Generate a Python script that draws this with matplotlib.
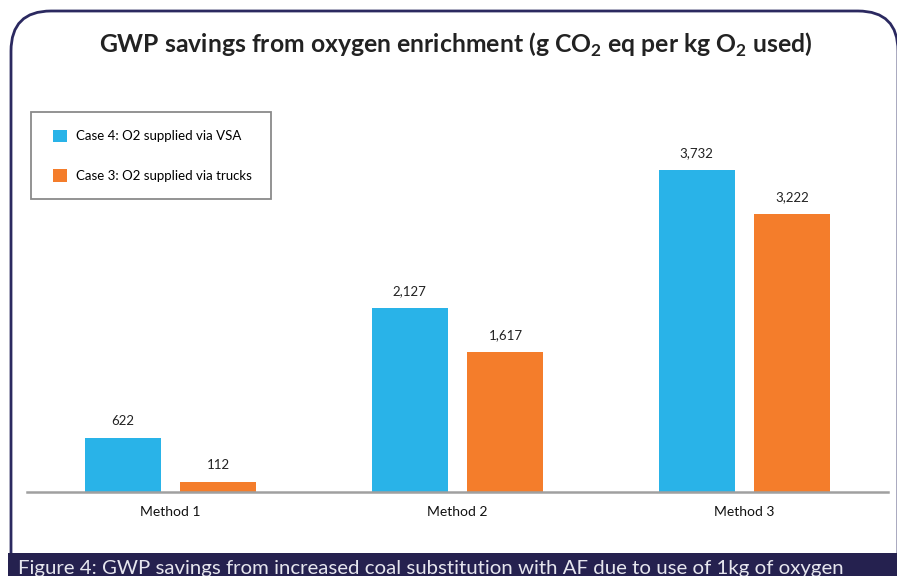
import numpy as np
import matplotlib.pyplot as plt
from matplotlib.patches import FancyBboxPatch, Rectangle
from matplotlib.transforms import IdentityTransform

methods = ['Method 1', 'Method 2', 'Method 3']
vsa = [622, 2127, 3732]
trucks = [112, 1617, 3222]
series_names = ['Case 4: O2 supplied via VSA', 'Case 3: O2 supplied via trucks']

blue = '#29b3e8'
orange = '#f47d2b'
navy = '#25214f'

plt.rcParams['font.family'] = ['Lato', 'DejaVu Sans']

W, H = 897, 576
fig = plt.figure(figsize=(W / 100, H / 100), dpi=100)

# rounded frame, in pixels
frame = FancyBboxPatch((11, -40), 887, H - 11 + 40, boxstyle='round,pad=0,rounding_size=40',
                       transform=IdentityTransform(), facecolor='white', edgecolor='#2b2960',
                       linewidth=2.0, zorder=-2)
fig.patches.append(frame)

# legend box
fig.patches.append(Rectangle((31, H - 199), 240, 87, transform=IdentityTransform(),
                             facecolor='white', edgecolor='#8a8a8a', linewidth=1.3, zorder=-1))

ax = fig.add_axes([27 / W, (H - 492) / H, 861 / W, 392 / H])
ax.patch.set_visible(False)
ax.set_zorder(1)

x = np.arange(len(methods))
w = 0.265
off = 0.167
b1 = ax.bar(x - off, vsa, w, color=blue, label=series_names[0])
b2 = ax.bar(x + off, trucks, w, color=orange, label=series_names[1])

for bars in (b1, b2):
    for r in bars:
        v = r.get_height()
        ax.annotate(f'{v:,.0f}', (r.get_x() + r.get_width() / 2, v), xytext=(0, 8),
                    textcoords='offset points', ha='center', va='bottom',
                    fontsize=9.5, color='#222222')

ax.set_xlim(-0.5, 2.5)
ax.set_ylim(0, 392 / 0.0863)
ax.set_xticks(x)
ax.set_xticklabels(methods, fontsize=10, color='#111111')
ax.tick_params(axis='x', length=0, pad=10)
ax.set_yticks([])
for s in ['top', 'right', 'left']:
    ax.spines[s].set_visible(False)
ax.spines['bottom'].set_color('#a0a0a0')
ax.spines['bottom'].set_linewidth(1.8)

leg = ax.legend(loc='upper left', bbox_to_anchor=(46 / W, (H - 123) / H),
                bbox_transform=fig.transFigure, frameon=False, fontsize=9.5,
                handlelength=1.1, handleheight=1.1, handletextpad=0.7,
                labelspacing=2.05, borderpad=0)

fig.text(456 / W, (H - 45) / H,
         'GWP savings from oxygen enrichment (g CO$_\\mathregular{2}$ eq per kg O$_\\mathregular{2}$ used)',
         ha='center', va='center', fontsize=17.8, fontweight='bold', color='#222222')

# caption strip
fig.patches.append(Rectangle((8, 0), W, 23, transform=IdentityTransform(),
                             facecolor=navy, edgecolor='none', zorder=3))
fig.text(18 / W, 16 / H, 'Figure 4: GWP savings from increased coal substitution with AF due to use of 1kg of oxygen',
         ha='left', va='top', fontsize=14.7, color='#e6e6ee', zorder=4)

fig.savefig('out.png', dpi=100)
